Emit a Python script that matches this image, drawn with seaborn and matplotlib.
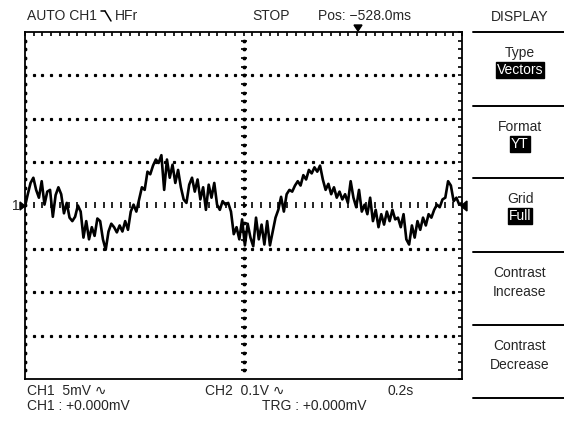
import numpy as np
import pandas as pd
import matplotlib
matplotlib.use("Agg")
import matplotlib.pyplot as plt
from matplotlib.lines import Line2D
from matplotlib.patches import Polygon
import seaborn as sns

# trace, CH1 in mV (5 mV/div), 0.2 s/div
ch1_mv = [-0.1, 1.3, 2.6, 3.2, 1.8, 0.9, 2.8, 0.1, 1.6, 1.8,
          -1.3, 1.2, 2.1, 1.3, -0.9, 0.3, -1.4, -1.8, -1.3, 0.0,
          -0.7, -3.7, -1.8, -3.9, -2.5, -3.5, -1.5, -1.8, -3.9, -5.1,
          -3.0, -2.1, -2.5, -3.1, -2.3, -3.0, -1.8, -2.8, -0.7, 0.1,
          -0.7, 0.7, 2.1, 1.8, 3.9, 3.6, 4.6, 5.3, 4.9, 5.8,
          1.8, 5.3, 3.2, 4.7, 2.6, 4.1, 2.1, 0.7, 0.3, 2.4,
          3.2, 1.6, 3.0, 0.7, 2.1, -0.5, 2.4, 0.9, 2.6, 0.1,
          -0.5, 0.5, 0.1, 0.3, -0.7, -3.3, -2.5, -3.9, -1.6, -4.6,
          -2.1, -3.7, -4.7, -1.4, -3.9, -2.2, -4.5, -1.8, -4.6, -3.0,
          -1.4, -0.5, 1.0, -0.7, 1.3, 1.8, 1.6, 2.3, 2.8, 2.3,
          3.5, 3.0, 4.1, 3.7, 4.4, 3.9, 4.6, 3.0, 1.8, 2.5,
          1.3, 2.1, 0.9, 1.6, 0.7, 1.3, 0.3, 2.8, 0.9, -0.2,
          1.8, -0.7, 0.1, -1.0, 0.9, -1.8, -0.5, -2.5, -1.0, -2.2,
          -0.7, -1.8, -0.5, -1.6, -1.4, -2.5, -1.0, -3.9, -4.5, -2.3,
          -3.7, -1.8, -2.8, -1.4, -2.3, -1.0, -1.4, -0.5, 0.1, -0.2,
          0.7, 0.9, 2.8, 2.3, 0.5, 0.9, 0.1, 0.3]
time_s = np.linspace(0, 2.0, len(ch1_mv))

menu_items = [("Type", "Vectors"), ("Format", "YT"), ("Grid", "Full"),
              ("Contrast", "Increase"), ("Contrast", "Decrease")]

sns.set_style("white")
plt.rcParams['font.family'] = ['Liberation Sans', 'DejaVu Sans']

W, H = 564, 425
fig = plt.figure(figsize=(W / 100, H / 100), dpi=100)
ax = fig.add_axes([25 / W, 1 - 379 / H, 437 / W, 347 / H])

df = pd.DataFrame({"t": time_s, "v": ch1_mv})
sns.lineplot(data=df, x="t", y="v", ax=ax, color="black", lw=1.9,
             estimator=None, sort=False)

ax.set_xlim(0, 2.0)
ax.set_ylim(-20, 20)
ax.set_xlabel("")
ax.set_ylabel("")
ax.set_xticks(np.arange(0, 2.0001, 0.04))
ax.set_yticks(np.arange(-20, 20.001, 1))
ax.tick_params(direction="in", length=3, width=1.2, top=True, right=True,
               labelbottom=False, labelleft=False, color="black")
for s in ax.spines.values():
    s.set_linewidth(1.3)
    s.set_color("black")

# dotted graticule
fine_x = np.arange(0.04, 2.0, 0.04)
fine_y = np.arange(-19, 20, 1)
for gx in np.arange(0.2, 1.9, 0.2):
    if abs(gx - 1.0) < 1e-6:
        continue
    ax.plot(np.full_like(fine_y, gx), fine_y, ls="none", marker="s", ms=1.3,
            color="black", zorder=1)
for gy in [-15, -10, -5, 5, 10, 15]:
    ax.plot(fine_x, np.full_like(fine_x, gy), ls="none", marker="s", ms=1.3,
            color="black", zorder=1)
# centre cross with fine ticks
ax.plot(np.full_like(fine_y, 1.0), fine_y, ls="none", marker="_", ms=4,
        mew=1.2, color="black", zorder=1)
ax.plot(fine_x, np.zeros_like(fine_x), ls="none", marker="|", ms=4,
        mew=1.2, color="black", zorder=1)


def ftext(x, y, s, **kw):
    fig.text(x / W, 1 - y / H, s, fontsize=10, va="center", **kw)


def fline(x0, y0, x1, y1, lw=1.3):
    fig.add_artist(Line2D([x0 / W, x1 / W], [1 - y0 / H, 1 - y1 / H],
                          color="black", lw=lw))


# header
ftext(27, 16, "AUTO CH1")
fline(101, 11, 105, 11, 1.1)
fline(105, 11, 111, 21, 1.1)
ftext(115, 16, "HFr")
ftext(252, 16, "STOP")
ftext(318, 16, "Pos: \u2212528.0ms")
fig.add_artist(Polygon([[354 / W, 1 - 25 / H], [362 / W, 1 - 25 / H], [358 / W, 1 - 31 / H]],
                       closed=True, color="black"))

# channel markers
ftext(12, 206, "1")
fig.add_artist(Polygon([[20 / W, 1 - 202 / H], [20 / W, 1 - 210 / H], [25 / W, 1 - 206 / H]],
                       closed=True, color="black"))
fig.add_artist(Polygon([[467 / W, 1 - 201 / H], [467 / W, 1 - 211 / H], [461 / W, 1 - 206 / H]],
                       closed=True, color="black"))

# footer
ftext(27, 391, "CH1  5mV \u223f")
ftext(27, 406, "CH1 : +0.000mV")
ftext(205, 391, "CH2  0.1V \u223f")
ftext(262, 406, "TRG : +0.000mV")
ftext(387, 391, "0.2s")

# side menu
cx = 520
ftext(cx, 17, "DISPLAY", ha="center")
menu_lines = [32, 106, 178, 252, 325, 398]
for ly in menu_lines:
    fline(473, ly, 564, ly, 1.4)
for i, (top, bottom) in enumerate(menu_items):
    y0 = menu_lines[i]
    ftext(cx, y0 + 21, top, ha="center")
    if i < 3:
        ftext(cx, y0 + 38, bottom, ha="center", color="white",
              bbox=dict(boxstyle="square,pad=0.08", fc="black", ec="black"))
    else:
        ftext(cx, y0 + 40, bottom, ha="center")

fig.savefig("out.png", dpi=100, facecolor="white")
